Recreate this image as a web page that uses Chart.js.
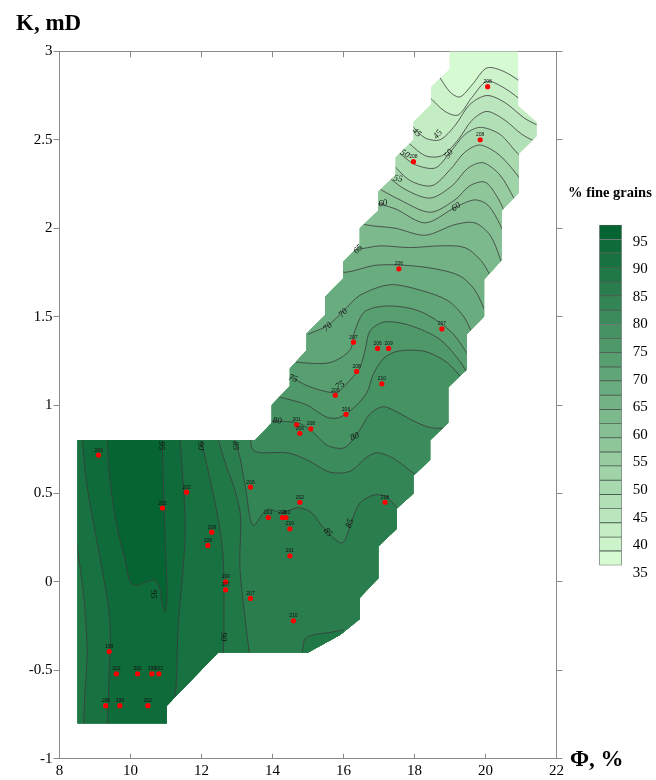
<!DOCTYPE html>
<html>
<head>
<meta charset="utf-8">
<script src="https://cdn.jsdelivr.net/npm/chart.js@4.4.1/dist/chart.umd.min.js"></script>
<style>
  body { margin: 0; background: #fff; width: 656px; height: 780px; position: relative; overflow: hidden; font-family: "Liberation Serif", serif; }
  #main { position: absolute; left: 0; top: 0; }
  #bar { position: absolute; left: 590px; top: 200px; }
  .t { position: absolute; font-weight: bold; color: #000; white-space: nowrap; line-height: 1; }
</style>
</head>
<body>
<canvas id="main" width="656" height="780"></canvas>
<canvas id="bar" width="66" height="400"></canvas>
<div class="t" style="left:16px;top:11px;font-size:23px">K, mD</div>
<div class="t" style="left:570px;top:747px;font-size:23px">Φ, %</div>
<div class="t" style="left:568px;top:185px;font-size:14.5px">% fine grains</div>
<script>
// Outline of the mapped area (porosity %, permeability mD)
const domain = [[18.98,3.0],[20.92,3.0],[20.92,2.69],[21.44,2.60],[21.44,2.52],[20.94,2.42],[20.94,2.20],[20.46,2.10],[20.46,1.82],[19.96,1.71],[19.96,1.50],[19.47,1.40],[19.47,1.20],[18.95,1.10],[18.95,0.90],[18.44,0.80],[18.44,0.69],[17.97,0.60],[17.97,0.50],[17.50,0.415],[17.50,0.30],[16.98,0.20],[16.98,0.02],[16.46,-0.09],[16.46,-0.21],[15.9,-0.30],[15.0,-0.40],[12.47,-0.40],[11.02,-0.70],[11.02,-0.80],[8.51,-0.80],[8.51,0.80],[13.51,0.80],[13.98,0.90],[13.98,1.00],[14.49,1.107],[14.49,1.207],[14.96,1.31],[14.96,1.405],[15.48,1.508],[15.48,1.612],[15.99,1.716],[15.99,1.81],[16.46,1.905],[16.46,2.0],[16.98,2.10],[16.98,2.206],[17.47,2.30],[17.47,2.40],[17.97,2.50],[17.97,2.60],[18.47,2.70],[18.47,2.80],[18.98,2.90]];

// Contour lines of % fine grains (upper arm, values rise towards lower left)
const c40 = [[18.55,2.88],[18.66,2.866],[19.0,2.77],[19.28,2.742],[19.62,2.81],[20.04,2.906],[20.55,2.883],[21.11,2.81]];
const c425 = [[18.38,2.75],[18.86,2.66],[19.23,2.64],[19.62,2.74],[20.04,2.83],[20.55,2.79],[21.11,2.71],[21.54,2.67]];
const c45 = [[17.8,2.62],[17.93,2.58],[18.30,2.51],[18.72,2.50],[19.14,2.58],[19.56,2.70],[20.04,2.75],[20.55,2.71],[21.11,2.62],[21.59,2.57]];
const c475 = [[17.73,2.50],[18.30,2.41],[18.77,2.41],[19.23,2.50],[19.62,2.61],[20.04,2.66],[20.55,2.61],[21.03,2.53],[21.59,2.47]];
const c50 = [[17.54,2.43],[18.01,2.36],[18.58,2.34],[18.97,2.42],[19.42,2.53],[19.85,2.57],[20.41,2.53],[20.97,2.41],[21.54,2.33]];
const c525 = [[17.3,2.38],[17.87,2.27],[18.49,2.24],[19.0,2.33],[19.42,2.43],[19.85,2.47],[20.41,2.41],[20.97,2.28],[21.25,2.19]];
const c55 = [[17.2,2.3],[17.73,2.22],[18.44,2.17],[19.06,2.24],[19.51,2.34],[19.93,2.37],[20.41,2.30],[20.83,2.16],[21.11,2.07]];
const c575 = [[16.85,2.24],[17.59,2.16],[18.44,2.09],[19.14,2.16],[19.56,2.24],[19.99,2.26],[20.35,2.17],[20.69,2.03],[20.97,1.96]];
const c60 = [[16.75,2.15],[17.45,2.11],[18.30,2.03],[19.17,2.12],[19.70,2.16],[20.07,2.13],[20.41,2.02],[20.69,1.88]];
const c625 = [[16.4,2.05],[16.61,2.02],[17.45,2.0],[18.30,1.96],[19.14,2.02],[19.70,2.03],[20.13,1.96],[20.41,1.83],[20.55,1.73]];
const c65 = [[16.1,1.9],[16.32,1.88],[17.03,1.90],[17.87,1.89],[18.72,1.90],[19.42,1.89],[19.90,1.81],[20.27,1.68],[20.55,1.59]];
const c675 = [[15.8,1.78],[16.04,1.75],[16.89,1.79],[17.73,1.79],[18.58,1.77],[19.28,1.73],[19.70,1.65],[20.04,1.51],[20.27,1.42]];
const c70 = [[15.0,1.40],[15.56,1.45],[15.99,1.53],[16.46,1.62],[17.31,1.68],[18.15,1.65],[18.94,1.59],[19.42,1.49],[19.76,1.34],[19.99,1.28]];
const c725 = [[14.5,1.25],[14.77,1.24],[15.62,1.24],[16.18,1.31],[16.32,1.42],[16.61,1.53],[17.31,1.56],[18.15,1.53],[19.0,1.42],[19.51,1.28],[19.70,1.19]];
const c75 = [[14.3,1.18],[14.49,1.16],[14.97,1.11],[15.42,1.08],[15.82,1.07],[15.99,1.10],[16.27,1.16],[16.46,1.21],[16.61,1.31],[16.75,1.42],[17.17,1.47],[17.87,1.45],[18.72,1.37],[19.34,1.23],[19.56,1.14]];
const c775 = [[13.87,1.06],[14.49,1.03],[14.97,1.0],[15.54,0.93],[15.90,0.93],[16.32,0.99],[16.66,1.07],[16.83,1.17],[17.11,1.26],[17.45,1.30],[17.87,1.31],[18.35,1.30],[18.92,1.24],[19.42,1.13]];
const c80 = [[13.79,0.91],[14.69,0.90],[15.06,0.86],[15.56,0.77],[16.04,0.76],[16.46,0.86],[16.75,0.95],[17.11,0.99],[17.51,0.96],[18.07,0.90],[18.52,0.87],[19.14,0.87]];
const c825 = [[13.37,0.81],[13.45,0.745],[13.73,0.73],[14.41,0.73],[14.97,0.69],[15.62,0.62],[16.18,0.625],[16.66,0.705],[16.94,0.73],[17.39,0.70],[17.87,0.63],[18.15,0.59]];
const c85 = [[12.89,0.83],[13.08,0.705],[13.25,0.52],[13.45,0.32],[13.85,0.41],[14.27,0.39],[14.72,0.42],[15.11,0.39],[15.42,0.31],[15.96,0.22],[16.24,0.35],[16.46,0.445],[16.83,0.49],[17.17,0.485],[17.51,0.42],[17.73,0.38]];
// Lower-left block
const c875 = [[12.43,0.83],[12.69,0.66],[12.94,0.52],[13.1,0.37],[13.08,0.09],[13.2,-0.16],[13.37,-0.44]];
const island875 = [[14.8,-0.45],[14.85,-0.38],[14.92,-0.32],[15.14,-0.30],[15.48,-0.29],[15.8,-0.28],[16.0,-0.27]];
const c90R = [[11.96,0.83],[12.15,0.66],[12.44,0.39],[12.61,0.14],[12.63,-0.27],[12.61,-0.44]];
const c90L = [[8.35,0.30],[8.46,0.24],[8.69,-0.10],[8.78,-0.40],[8.72,-0.61],[8.67,-0.84]];
const c925R = [[11.39,0.83],[11.54,0.29],[11.34,-0.27],[11.28,-0.6],[11.1,-0.85]];
const c925L = [[8.63,0.83],[8.75,0.575],[8.94,0.35],[9.20,0.07],[9.42,-0.22],[9.39,-0.56],[9.34,-0.84]];
const c95 = [[9.33,0.83],[9.42,0.575],[9.61,0.32],[9.85,0.12],[9.99,0.0],[10.18,-0.02],[10.46,0.0],[10.69,0.01],[10.83,-0.04],[10.89,-0.12],[10.97,-0.17],[11.03,-0.10],[11.0,0.12],[10.94,0.46],[10.89,0.83]];

// Contour labels
const labelText = ['45','45','50','50','55','60','60','65','70','70','75','75','80','80','85','85','95','90','85','95','90'];
const labelX = [18.06,18.66,17.73,18.97,17.54,17.11,19.17,16.41,15.99,15.56,14.58,15.9,14.13,16.32,15.56,16.18,10.88,11.96,12.94,10.64,12.61];
const labelY = [2.54,2.53,2.42,2.42,2.28,2.14,2.12,1.88,1.52,1.44,1.15,1.11,0.91,0.82,0.28,0.33,0.77,0.77,0.77,-0.07,-0.31];
const labelAngle = [40,-50,30,-55,10,-10,-35,-45,-45,-45,20,-30,5,-25,50,-70,90,90,90,90,90];

// Sample points
const wellX = [20.06,19.85,17.97,17.56,18.77,16.28,16.96,17.27,16.37,15.77,17.08,16.07,14.68,15.08,14.77,13.38,14.77,17.17,13.88,14.28,14.38,14.49,14.49,13.38,14.59,9.10,11.58,10.90,12.29,12.18,12.68,12.68,9.40,9.60,10.20,10.60,10.80,9.30,9.70,10.49];
const wellY = [2.80,2.50,2.376,1.77,1.43,1.355,1.32,1.32,1.19,1.055,1.12,0.947,0.888,0.865,0.84,0.536,0.45,0.45,0.364,0.364,0.364,0.30,0.147,-0.094,-0.22,0.717,0.507,0.417,0.281,0.206,0.0,-0.045,-0.394,-0.52,-0.52,-0.52,-0.52,-0.70,-0.70,-0.70];
const wellId = ['208','208','208','206','207','207','206','209','208','209','210','206','201','208','206','206','202','208','201','208','210','210','201','207','210','203','202','202','209','206','199','207','199','202','202','199','202','199','199','202'];

// Colour scale
const legendTicks = [35,40,45,50,55,60,65,70,75,80,85,90,95];
const legendEdges = [36.4,39.0,41.5,44.1,46.7,49.2,51.8,54.4,56.9,59.5,62.1,64.6,67.2,69.8,72.3,74.9,77.5,80.0,82.6,85.2,87.7,90.3,92.9,95.4,98.0];

const light = [214, 250, 210], dark = [6, 100, 50];
function bandColor(k) {
  const t = k / 23;
  const c = light.map((v, i) => Math.round(v + (dark[i] - v) * t));
  return `rgb(${c[0]},${c[1]},${c[2]})`;
}
const legendColors = legendEdges.slice(1).map((_, k) => bandColor(k));

const pts = a => a.map(([x, y]) => ({x, y}));
const armClose = line => line.concat([[23.5, -2], [6, -2], [6, line[0][1]]]);

// filled regions, painted from low to high values
const regions = [
  [0, domain, 0],
  [1, armClose(c40)], [2, armClose(c425)], [3, armClose(c45)], [4, armClose(c475)],
  [5, armClose(c50)], [6, armClose(c525)], [7, armClose(c55)], [8, armClose(c575)],
  [9, armClose(c60)], [10, armClose(c625)], [11, armClose(c65)], [12, armClose(c675)],
  [13, armClose(c70)], [14, armClose(c725)], [15, armClose(c75)], [16, armClose(c775)],
  [17, armClose(c80)], [18, armClose(c825)], [19, armClose(c85)],
  [20, c875.concat([[13.45, -2], [6, -2], [6, 0.95], [12.43, 0.95]])],
  [20, island875.concat([[16.3, -0.6], [14.6, -0.6]])],
  [21, c90R.concat([[12.7, -1.3], [8.6, -1.3]], [...c90L].reverse(), [[8.2, 0.3], [8.2, 0.95], [11.96, 0.95]])],
  [22, c925R.concat([[11.0, -1.3], [9.3, -1.3]], [...c925L].reverse(), [[8.63, 0.95], [11.39, 0.95]])],
  [23, c95.concat([[10.89, 0.95], [9.33, 0.95]])]
];
const strokes = [c40, c425, c45, c475, c50, c525, c55, c575, c60, c625, c65, c675, c70, c725, c75, c775, c80, c825, c85, c875, island875, c90R, c90L, c925R, c925L, c95];

const datasets = [];
datasets.push({
  data: wellX.map((x, i) => ({x, y: wellY[i]})), showLine: false, order: 0, isWells: true,
  pointRadius: 2.6, pointBackgroundColor: '#ff0000', pointBorderWidth: 0
});
strokes.forEach(s => datasets.push({
  data: pts(s), fill: false, borderColor: '#3b3b3b', borderWidth: 0.8, pointRadius: 0, tension: 0.3, order: 5
}));
regions.forEach(([k, poly, tension], i) => datasets.push({
  data: pts(poly), fill: 'shape', backgroundColor: bandColor(k), borderColor: 'transparent', borderWidth: 0,
  pointRadius: 0, tension: tension === 0 ? 0 : 0.3, order: 1000 - i
}));

// keep fills and contour lines inside the mapped outline
const domainClip = {
  id: 'domainClip',
  beforeDatasetsDraw(chart) {
    const {ctx, scales: {x, y}} = chart;
    ctx.save();
    ctx.beginPath();
    domain.forEach(([a, b], i) => {
      const px = x.getPixelForValue(a), py = y.getPixelForValue(b);
      if (i) ctx.lineTo(px, py); else ctx.moveTo(px, py);
    });
    ctx.closePath();
    ctx.clip();
    chart.$clipped = true;
  },
  beforeDatasetDraw(chart, args) {
    if (chart.data.datasets[args.index].isWells && chart.$clipped) {
      chart.ctx.restore();
      chart.$clipped = false;
    }
  },
  afterDatasetsDraw(chart) {
    const {ctx, scales: {x, y}} = chart;
    if (chart.$clipped) { ctx.restore(); chart.$clipped = false; }
    ctx.save();
    ctx.fillStyle = '#111';
    ctx.textAlign = 'center';
    ctx.textBaseline = 'middle';
    ctx.font = 'italic 9px "Liberation Serif"';
    labelText.forEach((t, i) => {
      ctx.save();
      ctx.translate(x.getPixelForValue(labelX[i]), y.getPixelForValue(labelY[i]));
      ctx.rotate(labelAngle[i] * Math.PI / 180);
      ctx.fillText(t, 0, 0);
      ctx.restore();
    });
    ctx.font = '5px "Liberation Sans"';
    ctx.textBaseline = 'alphabetic';
    wellId.forEach((t, i) => ctx.fillText(t, x.getPixelForValue(wellX[i]), y.getPixelForValue(wellY[i]) - 3.5));
    ctx.restore();
  }
};

const tickFont = {family: 'Liberation Serif', size: 15};
const axisGrey = '#8a8a8a';
const plain = v => String(+Number(v).toFixed(2));

new Chart(document.getElementById('main'), {
  type: 'line',
  data: {datasets},
  options: {
    responsive: false,
    animation: false,
    devicePixelRatio: 1,
    layout: {padding: 0},
    plugins: {legend: {display: false}, tooltip: {enabled: false}},
    scales: {
      x: {
        type: 'linear', axis: 'x', position: 'bottom', min: 8, max: 22,
        ticks: {stepSize: 2, font: tickFont, color: '#000', padding: 8, maxRotation: 0, callback: plain},
        grid: {drawOnChartArea: false, tickLength: -5, tickColor: axisGrey},
        border: {color: axisGrey},
        afterFit: s => { s.height = 21.3; }
      },
      xTop: {
        type: 'linear', axis: 'x', position: 'top', min: 8, max: 22,
        ticks: {stepSize: 2, display: false},
        grid: {drawOnChartArea: false, tickLength: -6, tickColor: axisGrey},
        border: {color: axisGrey},
        afterFit: s => { s.height = 51.3; }
      },
      y: {
        type: 'linear', axis: 'y', position: 'left', min: -1, max: 3,
        ticks: {stepSize: 0.5, font: tickFont, color: '#000', padding: 1, callback: plain},
        grid: {drawOnChartArea: false, tickLength: 6, tickColor: axisGrey},
        border: {color: axisGrey},
        afterFit: s => { s.width = 59.5; }
      },
      yRight: {
        type: 'linear', axis: 'y', position: 'right', min: -1, max: 3,
        ticks: {stepSize: 0.5, display: false},
        grid: {drawOnChartArea: false, tickLength: 6, tickColor: axisGrey},
        border: {color: axisGrey},
        afterFit: s => { s.width = 99.5; }
      }
    }
  },
  plugins: [domainClip]
});

// Colour bar
new Chart(document.getElementById('bar'), {
  type: 'bar',
  data: {
    labels: [''],
    datasets: legendColors.map((c, k) => ({
      data: [[legendEdges[k], legendEdges[k + 1]]],
      backgroundColor: c, borderColor: '#4d5f52', borderWidth: 0.8, borderSkipped: false,
      barPercentage: 1, categoryPercentage: 1, grouped: false
    }))
  },
  options: {
    responsive: false,
    animation: false,
    devicePixelRatio: 1,
    layout: {padding: {left: 9.3, top: 0, bottom: 0, right: 0}},
    plugins: {legend: {display: false}, tooltip: {enabled: false}},
    scales: {
      x: {display: false},
      y: {
        position: 'right', min: 30.11, max: 102.55,
        afterBuildTicks: s => { s.ticks = legendTicks.map(v => ({value: v})); },
        ticks: {font: tickFont, color: '#000', padding: 3},
        grid: {display: false},
        border: {display: false},
        afterFit: s => { s.width = 34.3; s.paddingTop = 0; s.paddingBottom = 0; }
      }
    }
  }
});
</script>
</body>
</html>
